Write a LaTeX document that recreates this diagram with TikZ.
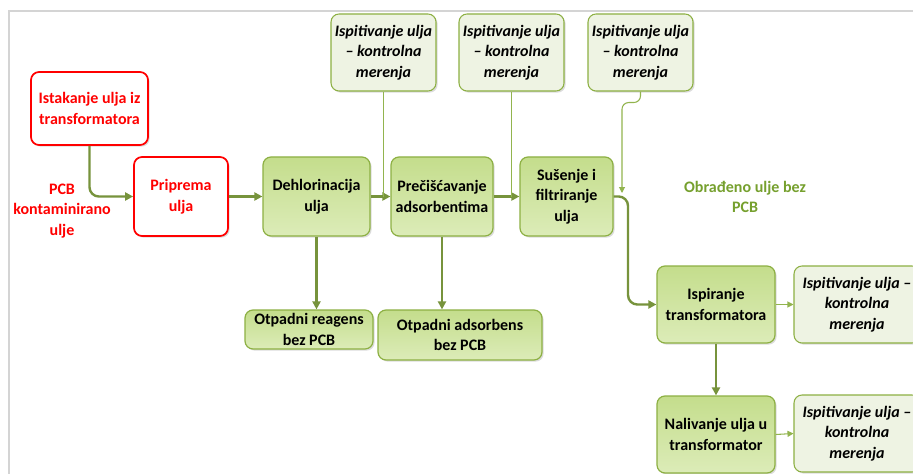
\documentclass[tikz,border=0pt]{standalone}
\usepackage{fontspec}
\setmainfont{Carlito}
\usetikzlibrary{arrows.meta,shadows}
\definecolor{lineG}{HTML}{77933C}
\definecolor{thinG}{HTML}{92B44E}
\definecolor{bordG}{HTML}{8DB043}
\definecolor{fillA}{HTML}{C4DD8C}
\definecolor{fillB}{HTML}{DCECB8}
\definecolor{paleG}{HTML}{EEF3E3}
\definecolor{txtG}{HTML}{76A02E}
\definecolor{redC}{HTML}{FF0000}
\tikzset{
  bx/.style 2 args={minimum width=#1*0.75pt, minimum height=#2*0.75pt, inner sep=0pt},
  shad/.style={drop shadow={shadow xshift=1.2pt, shadow yshift=-1.2pt, fill=black!30, opacity=0.45}},
  bigfont/.style={font=\fontsize{12}{15.5}\selectfont\bfseries},
  itfont/.style={font=\fontsize{12}{15.4}\selectfont\bfseries\itshape},
  greenbox/.style={draw=bordG, line width=0.9pt, rounded corners=6pt, top color=fillA, bottom color=fillB, shad,
    align=center, bigfont, text=black},
  redbox/.style={draw=redC, line width=1.3pt, rounded corners=6pt, fill=white, shad,
    align=center, bigfont, text=redC},
  palebox/.style={draw=bordG, line width=0.8pt, rounded corners=6pt, fill=paleG, shad,
    align=center, itfont, text=black},
  flow/.style={draw=lineG, line width=1.8pt, -{Triangle[length=6pt,width=6pt]}},
  thinline/.style={draw=thinG, line width=0.8pt},
  thinarrow/.style={draw=thinG, line width=0.8pt, -{Triangle[length=4.5pt,width=4.5pt]}},
}
\begin{document}
\begin{tikzpicture}[x=0.75pt,y=-0.75pt, baseline=0pt]
\useasboundingbox (0,0) rectangle (913,474);
\clip (0,0) rectangle (913,474);
\fill[white] (0,0) rectangle (913,474);
\draw[black!17, line width=1.5pt] (9,474) -- (9,11) -- (913,11);

% top test boxes
\node[palebox, bx={105}{77}] (t1) at (383.5,52.5) {Ispitivanje ulja\\– kontrolna\\merenja};
\node[palebox, bx={105}{77}] (t2) at (511.5,52.5) {Ispitivanje ulja\\– kontrolna\\merenja};
\node[palebox, bx={105}{77}] (t3) at (640.5,52.5) {Ispitivanje ulja\\– kontrolna\\merenja};

% red boxes
\node[redbox, bx={117}{73}] (ist) at (89.5,108.5) {Istakanje ulja iz\\transformatora};
\node[redbox, bx={94}{79}] (prip) at (181,196.5) {Priprema\\ulja};
\node[bigfont, text=redC, align=center] (pcb) at (62,211) {PCB\\kontaminirano\\ulje};

% main green boxes
\node[greenbox, bx={107}{79}] (deh) at (316.5,196.5) {Dehlorinacija\\ulja};
\node[greenbox, bx={102}{79}] (pre) at (442,196.5) {Prečišćavanje\\adsorbentima};
\node[greenbox, bx={93}{79}] (sus) at (566.5,196.5) {Sušenje i\\filtriranje\\ulja};
\node[greenbox, bx={118}{77}] (isp) at (716,304.5) {Ispiranje\\transformatora};
\node[greenbox, bx={118}{77}] (nal) at (716,434.5) {Nalivanje ulja u\\transformator};
\node[greenbox, bx={128}{39}] (otr) at (309,329.5) {Otpadni reagens\\bez PCB};
\node[greenbox, bx={164}{50}] (ota) at (460,335) {Otpadni adsorbens\\bez PCB};

% right test boxes
\node[palebox, bx={126}{77}] (r1) at (857,304.5) {Ispitivanje ulja –\\kontrolna\\merenja};
\node[palebox, bx={126}{77}] (r2) at (857,433.5) {Ispitivanje ulja –\\kontrolna\\merenja};

\node[bigfont, text=txtG, align=center] (obr) at (745,197) {Obrađeno ulje bez\\PCB};

% connectors
\draw[flow, rounded corners=7pt] (ist.south) |- (prip.west);
\draw[flow] (prip.east) -- (deh.west);
\draw[flow] (deh.east) -- (pre.west);
\draw[flow] (pre.east) -- (sus.west);
\draw[thinline] (t1.south) -- (t1.south |- deh.east);
\draw[thinline] (t2.south) -- (t2.south |- pre.east);
\coordinate (j3) at (622,193);
\draw[thinarrow, rounded corners=5pt] (t3.south) -- ++(0,11) -| (j3);
\coordinate (bend) at (628,250);
\draw[flow, rounded corners=7pt] (sus.east) -| (bend) |- (isp.west);
\draw[flow] (isp.south) -- (nal.north);
\draw[thinarrow] (isp.east) -- (r1.west);
\draw[thinarrow] (nal.east) -- (r2.west);
\draw[flow] (deh.south) -- (deh.south |- otr.north);
\draw[flow] (pre.south) -- (pre.south |- ota.north);
\end{tikzpicture}
\end{document}
